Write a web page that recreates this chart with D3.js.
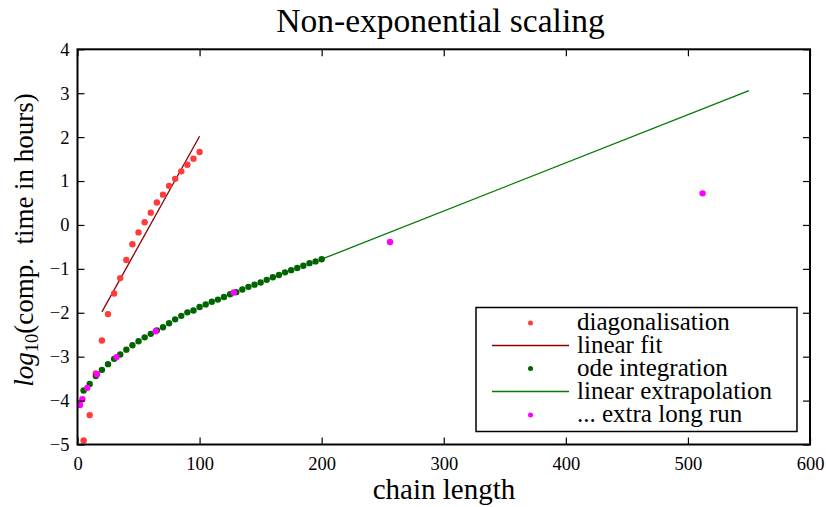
<!DOCTYPE html>
<html>
<head>
<meta charset="utf-8">
<script src="https://cdn.jsdelivr.net/npm/d3@7/dist/d3.min.js"></script>
<style>
  html, body { margin: 0; padding: 0; background: #fff; }
  svg { display: block; font-family: "Liberation Serif", "DejaVu Serif", serif; }
  svg text { font-family: "Liberation Serif", "DejaVu Serif", serif; }
</style>
</head>
<body>
<svg id="chart" width="826" height="507"></svg>
<script>
// Chain lengths and log10 of computation time (hours)
const diagLength = [5, 10, 15, 20, 25, 30, 35, 40, 45, 50, 55, 60, 65, 70, 75, 80, 85, 90, 95, 100];
const diagTime = [-4.91, -4.33, -3.38, -2.63, -2.03, -1.56, -1.21, -0.80, -0.44, -0.17,
                  0.06, 0.28, 0.51, 0.69, 0.89, 1.05, 1.22, 1.37, 1.51, 1.66];

const fitLength = [20, 100];
const fitTime = [-1.98, 2.02];

const odeLength = [5, 10, 15, 20, 25, 30, 35, 40, 45, 50, 55, 60, 65, 70, 75, 80, 85, 90, 95, 100,
                   105, 110, 115, 120, 125, 130, 135, 140, 145, 150, 155, 160, 165, 170, 175, 180, 185, 190, 195, 200];
const odeTime = [-3.77, -3.62, -3.44, -3.30, -3.17, -3.05, -2.95, -2.84, -2.74, -2.65,
                 -2.56, -2.48, -2.40, -2.33, -2.24, -2.15, -2.07, -1.99, -1.95, -1.87,
                 -1.81, -1.75, -1.70, -1.64, -1.58, -1.53, -1.47, -1.41, -1.36, -1.31,
                 -1.25, -1.19, -1.14, -1.08, -1.03, -0.98, -0.93, -0.87, -0.83, -0.78];

const extrapLength = [200, 550];
const extrapTime = [-0.78, 3.06];

const longLength = [2, 4, 8, 16, 32, 64, 128, 256, 512];
const longTime = [-4.10, -3.97, -3.71, -3.40, -3.01, -2.42, -1.54, -0.39, 0.72];

const xTicks = [0, 100, 200, 300, 400, 500, 600];
const yTicks = [-5, -4, -3, -2, -1, 0, 1, 2, 3, 4];

const legendItems = [
  { label: "diagonalisation", kind: "dot", color: "#ff3b3b" },
  { label: "linear fit", kind: "line", color: "#8b0000" },
  { label: "ode integration", kind: "dot", color: "#006400" },
  { label: "linear extrapolation", kind: "line", color: "#007a00" },
  { label: "... extra long run", kind: "dot", color: "#ff00ff" }
];

const svg = d3.select("#chart");
const plotLeft = 77.5, plotRight = 810, plotTop = 49.3, plotBottom = 444.5;

const x = d3.scaleLinear().domain([0, 600]).range([plotLeft, plotRight]);
const y = d3.scaleLinear().domain([-5, 4]).range([plotBottom, plotTop]);

const fmt = d => d < 0 ? "\u2212" + Math.abs(d) : String(d);
const tickLen = 7;

// Title
svg.append("text")
  .attr("x", 440.5).attr("y", 32)
  .attr("text-anchor", "middle")
  .attr("font-size", 33.5)
  .text("Non-exponential scaling");

// Plot contents clipped to axes
svg.append("clipPath").attr("id", "plotclip")
  .append("rect").attr("x", plotLeft).attr("y", plotTop)
  .attr("width", plotRight - plotLeft).attr("height", plotBottom - plotTop);
const plot = svg.append("g").attr("clip-path", "url(#plotclip)");

const line = d3.line().x(d => x(d[0])).y(d => y(d[1]));

plot.append("path")
  .datum(fitLength.map((v, i) => [v, fitTime[i]]))
  .attr("d", line).attr("fill", "none")
  .attr("stroke", "#8b0000").attr("stroke-width", 1.3);

plot.append("path")
  .datum(extrapLength.map((v, i) => [v, extrapTime[i]]))
  .attr("d", line).attr("fill", "none")
  .attr("stroke", "#007a00").attr("stroke-width", 1.3);

plot.append("g").selectAll("circle")
  .data(diagLength.map((v, i) => [v, diagTime[i]]))
  .join("circle")
  .attr("cx", d => x(d[0])).attr("cy", d => y(d[1])).attr("r", 3.2)
  .attr("fill", "#ff3b3b");

plot.append("g").selectAll("circle")
  .data(odeLength.map((v, i) => [v, odeTime[i]]))
  .join("circle")
  .attr("cx", d => x(d[0])).attr("cy", d => y(d[1])).attr("r", 3.2)
  .attr("fill", "#006400");

plot.append("g").selectAll("circle")
  .data(longLength.map((v, i) => [v, longTime[i]]))
  .join("circle")
  .attr("cx", d => x(d[0])).attr("cy", d => y(d[1])).attr("r", 3.2)
  .attr("fill", "#ff00ff");

// Axes: ticks point inward on all four sides
const axisBottom = d3.axisBottom(x).tickValues(xTicks).tickFormat(fmt)
  .tickSizeInner(-tickLen).tickSizeOuter(0).tickPadding(12);
const axisTop = d3.axisTop(x).tickValues(xTicks).tickFormat("")
  .tickSizeInner(-tickLen).tickSizeOuter(0);
const axisLeft = d3.axisLeft(y).tickValues(yTicks).tickFormat(fmt)
  .tickSizeInner(-tickLen).tickSizeOuter(0).tickPadding(8);
const axisRight = d3.axisRight(y).tickValues(yTicks).tickFormat("")
  .tickSizeInner(-tickLen).tickSizeOuter(0);

function styleAxis(g) {
  g.attr("font-family", null).attr("font-size", null);
  g.select(".domain").remove();
  g.selectAll(".tick line").attr("stroke", "#000").attr("stroke-width", 1.2);
  g.selectAll(".tick text").attr("fill", "#000").attr("font-size", 18.5);
}

svg.append("g").attr("transform", `translate(0,${plotBottom})`).call(axisBottom).call(styleAxis);
svg.append("g").attr("transform", `translate(0,${plotTop})`).call(axisTop).call(styleAxis);
svg.append("g").attr("transform", `translate(${plotLeft},0)`).call(axisLeft).call(styleAxis);
svg.append("g").attr("transform", `translate(${plotRight},0)`).call(axisRight).call(styleAxis);

svg.append("rect")
  .attr("x", plotLeft).attr("y", plotTop)
  .attr("width", plotRight - plotLeft).attr("height", plotBottom - plotTop)
  .attr("fill", "none").attr("stroke", "#000").attr("stroke-width", 2);

// Axis labels
svg.append("text")
  .attr("x", 444).attr("y", 499)
  .attr("text-anchor", "middle").attr("font-size", 29)
  .text("chain length");

const ylab = svg.append("text")
  .attr("transform", `translate(33,240) rotate(-90)`)
  .attr("text-anchor", "middle").attr("font-size", 27);
ylab.append("tspan").attr("font-style", "italic").text("log");
ylab.append("tspan").attr("font-size", 18.5).attr("dy", 5).text("10");
ylab.append("tspan").attr("dy", -5).text("(comp.\u00a0 time in hours)");

// Legend
const lg = svg.append("g");
lg.append("rect")
  .attr("x", 476).attr("y", 307.5).attr("width", 321).attr("height", 124)
  .attr("fill", "#fff").attr("stroke", "#000").attr("stroke-width", 1.5);

const rowY = [323, 345.5, 368.5, 391.5, 415];
legendItems.forEach((item, i) => {
  const cy = rowY[i];
  if (item.kind === "dot") {
    lg.append("circle").attr("cx", 530.5).attr("cy", cy).attr("r", 2.5).attr("fill", item.color);
  } else {
    lg.append("line").attr("x1", 492).attr("x2", 569).attr("y1", cy).attr("y2", cy)
      .attr("stroke", item.color).attr("stroke-width", 1.3);
  }
  lg.append("text").attr("x", 577).attr("y", cy + 7)
    .attr("font-size", 25).text(item.label);
});
</script>
</body>
</html>
